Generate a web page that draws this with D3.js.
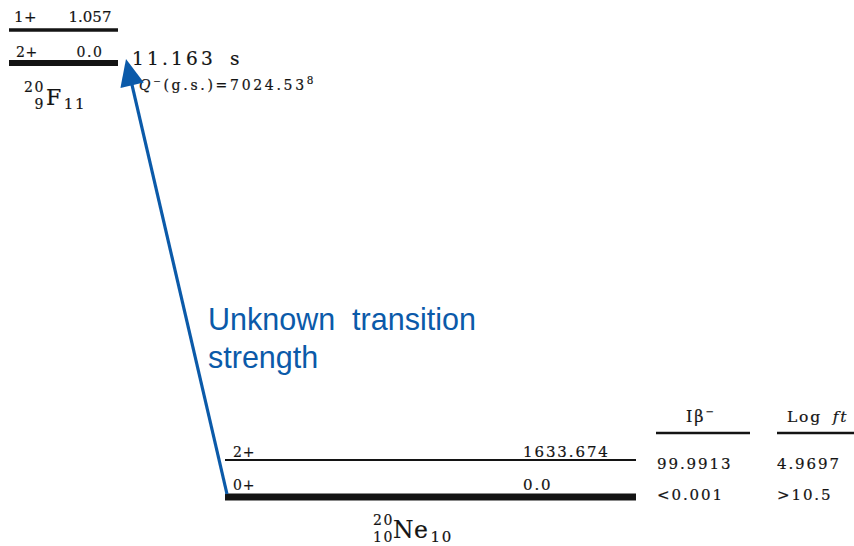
<!DOCTYPE html>
<html>
<head>
<meta charset="utf-8">
<script src="https://cdn.jsdelivr.net/npm/d3@7/dist/d3.min.js"></script>
<style>
  html, body { margin: 0; padding: 0; background: #fff; }
  svg { display: block; }
  .serif { font-family: "DejaVu Serif", "Liberation Serif", serif; fill: #141414; stroke: #141414; stroke-width: 0.2px; }
</style>
</head>
<body>
<script>
// Beta decay scheme: 20F (2+ ground state) -> 20Ne

// Parent nucleus 20F levels
const parentSpins = ["2+", "1+"];
const parentEnergies = [0.0, 1.057];
const parentEnergyLabels = ["0.0", "1.057"];

// Daughter nucleus 20Ne levels
const daughterSpins = ["0+", "2+"];
const daughterEnergies = [0.0, 1633.674];
const daughterEnergyLabels = ["0.0", "1633.674"];

// Feeding of each daughter level
const betaIntensities = ["<0.001", "99.9913"];
const logFt = [">10.5", "4.9697"];

const halfLife = "11.163 s";
const qValue = "7024.53";
const qUncertainty = "8";
const annotation = ["Unknown  transition", "strength"];

const W = 854, H = 546;
const blue = "#0b5aa9";

const svg = d3.select("body").append("svg")
  .attr("width", W).attr("height", H)
  .attr("viewBox", `0 0 ${W} ${H}`);

svg.append("rect").attr("width", W).attr("height", H).attr("fill", "#fff");

// level positions (schemes are not drawn to energy scale: one scale per nucleus)
const yP = d3.scaleLinear().domain(d3.extent(parentEnergies)).range([63, 30]);
const xP = d3.scaleLinear().domain([0, 1]).range([9, 118]);
const yD = d3.scaleLinear().domain(d3.extent(daughterEnergies)).range([497, 460]);
const xD = d3.scaleLinear().domain([0, 1]).range([225, 636]);

const parent = parentEnergies.map((e, i) => ({ e, spin: parentSpins[i], lab: parentEnergyLabels[i], gs: e === 0 }));
const daughter = daughterEnergies.map((e, i) => ({ e, spin: daughterSpins[i], lab: daughterEnergyLabels[i], gs: e === 0,
  ib: betaIntensities[i], ft: logFt[i] }));

// ---- parent levels
const gP = svg.append("g");
gP.selectAll("line").data(parent).join("line")
  .attr("x1", xP(0)).attr("x2", xP(1))
  .attr("y1", d => yP(d.e)).attr("y2", d => yP(d.e))
  .attr("stroke", "#141414")
  .attr("stroke-width", d => d.gs ? 6 : 3.5);
gP.selectAll("text.spin").data(parent).join("text")
  .attr("class", "serif spin")
  .attr("x", d => d.gs ? 16 : 14)
  .attr("y", d => yP(d.e) - (d.gs ? 6 : 8))
  .attr("font-size", d => d.gs ? 14 : 15)
  .attr("letter-spacing", 0.5)
  .text(d => d.spin);
gP.selectAll("text.en").data(parent).join("text")
  .attr("class", "serif en")
  .attr("x", 90)
  .attr("text-anchor", "middle")
  .attr("y", d => yP(d.e) - (d.gs ? 6 : 8))
  .attr("font-size", d => d.gs ? 14 : 15)
  .attr("letter-spacing", d => d.gs ? 1.5 : 0)
  .text(d => d.lab);

// half-life and Q value
svg.append("text").attr("class", "serif")
  .attr("x", 132).attr("y", 65)
  .attr("font-size", 18.5).attr("letter-spacing", 3.2).attr("word-spacing", 5)
  .text(halfLife);

const q = svg.append("text").attr("class", "serif")
  .attr("x", 139).attr("y", 90).attr("font-size", 14).attr("letter-spacing", 2.7);
q.append("tspan").attr("font-style", "italic").text("Q");
q.append("tspan").attr("font-size", 9).attr("dy", -6).text("\u2212");
q.append("tspan").attr("dy", 6).text("(g.s.)=" + qValue);
q.append("tspan").attr("font-size", 10.5).attr("dy", -6).text(qUncertainty);

// nucleus labels: mass number over proton number, element symbol, neutron number
function nucleus(xPre, xSym, yBase, A, Z, sym, N, symSize) {
  const g = svg.append("g");
  g.append("text").attr("class", "serif").attr("text-anchor", "end")
    .attr("x", xPre).attr("y", yBase - 13).attr("font-size", 14).attr("letter-spacing", 1.6).text(A);
  g.append("text").attr("class", "serif").attr("text-anchor", "end")
    .attr("x", xPre).attr("y", yBase + 4).attr("font-size", 14).attr("letter-spacing", 1.6).text(Z);
  const t = g.append("text").attr("class", "serif")
    .attr("x", xSym).attr("y", yBase).attr("font-size", symSize).attr("letter-spacing", 0.5);
  t.append("tspan").text(sym);
  t.append("tspan").attr("font-size", 15).attr("dy", 4).attr("dx", 2).attr("letter-spacing", 1.8).text(N);
}
nucleus(45, 46, 105, "20", "9", "F", "11", 22);
nucleus(394, 393, 538, "20", "10", "Ne", "10", 23.5);

// ---- daughter levels
const gD = svg.append("g");
gD.selectAll("line").data(daughter).join("line")
  .attr("x1", xD(0)).attr("x2", xD(1))
  .attr("y1", d => yD(d.e)).attr("y2", d => yD(d.e))
  .attr("stroke", "#141414")
  .attr("stroke-width", d => d.gs ? 7 : 2);
gD.selectAll("text.spin").data(daughter).join("text")
  .attr("class", "serif spin")
  .attr("x", 233)
  .attr("y", d => yD(d.e) - (d.gs ? 7 : 3.5))
  .attr("font-size", 14).attr("letter-spacing", 0.8)
  .text(d => d.spin);
gD.selectAll("text.en").data(daughter).join("text")
  .attr("class", "serif en")
  .attr("x", 523)
  .attr("y", d => yD(d.e) - (d.gs ? 7 : 3.5))
  .attr("font-size", 15).attr("letter-spacing", 1.9)
  .text(d => d.lab);

// intensity / log ft columns
const cols = [
  { x1: 656, x2: 750, xt: 657, key: "ib" },
  { x1: 777, x2: 854, xt: 777, key: "ft" }
];
svg.selectAll("line.col").data(cols).join("line")
  .attr("class", "col")
  .attr("x1", d => d.x1).attr("x2", d => d.x2)
  .attr("y1", 433).attr("y2", 433)
  .attr("stroke", "#141414").attr("stroke-width", 2.5);

const h1 = svg.append("text").attr("class", "serif")
  .attr("x", 686).attr("y", 422).attr("font-size", 16).attr("letter-spacing", 2);
h1.append("tspan").text("I\u03b2");
h1.append("tspan").attr("font-size", 10).attr("dy", -7).text("\u2212");
const h2 = svg.append("text").attr("class", "serif")
  .attr("x", 787).attr("y", 422).attr("font-size", 15.5).attr("letter-spacing", 1.8).attr("word-spacing", 4);
h2.append("tspan").text("Log ");
h2.append("tspan").attr("font-style", "italic").text("ft");

cols.forEach(c => {
  svg.selectAll("text.v" + c.key).data(daughter).join("text")
    .attr("class", "serif v" + c.key)
    .attr("x", c.xt)
    .attr("y", d => yD(d.e) + (d.gs ? 3 : 9))
    .attr("font-size", 15).attr("letter-spacing", 1.9)
    .text(d => d[c.key]);
});

// ---- transition arrow: daughter ground state -> parent ground state
const start = [xD(0) + 2, yD(0) - 3];
const tip = [xP(1) + 8, yP(0) - 4];
const dx = tip[0] - start[0], dy = tip[1] - start[1];
const len = Math.hypot(dx, dy);
const ux = dx / len, uy = dy / len;
const headLen = 27, headHalf = 12;
const base = [tip[0] - ux * headLen, tip[1] - uy * headLen];
svg.append("line")
  .attr("x1", start[0]).attr("y1", start[1])
  .attr("x2", base[0] + ux * 2).attr("y2", base[1] + uy * 2)
  .attr("stroke", blue).attr("stroke-width", 3.2);
svg.append("path")
  .attr("d", d3.line()([
    tip,
    [base[0] - uy * headHalf, base[1] + ux * headHalf],
    [base[0] + uy * headHalf, base[1] - ux * headHalf]
  ]) + "Z")
  .attr("fill", blue);

// annotation
svg.append("text")
  .attr("x", 208).attr("y", 330)
  .attr("font-family", "Liberation Sans, Arial, sans-serif")
  .attr("font-size", 30.5).attr("fill", blue)
  .attr("xml:space", "preserve")
  .style("white-space", "pre")
  .selectAll("tspan").data(annotation).join("tspan")
  .attr("x", 208).attr("dy", (d, i) => i ? 38 : 0)
  .text(d => d);
</script>
</body>
</html>
